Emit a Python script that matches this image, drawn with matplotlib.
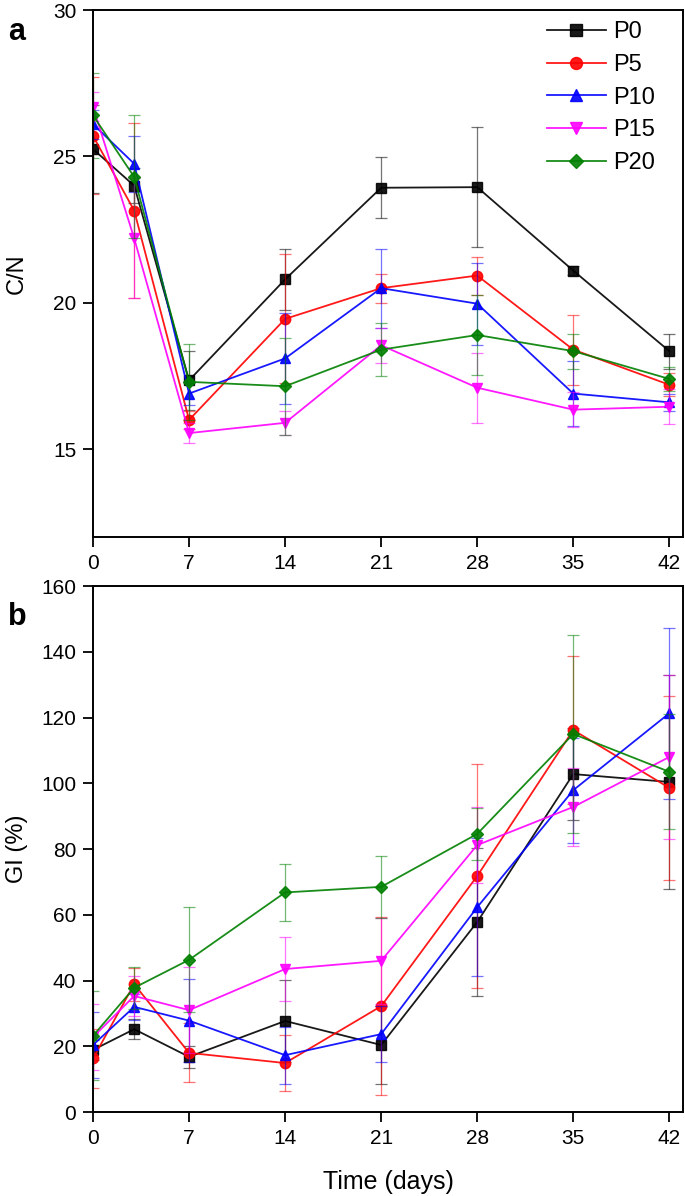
import matplotlib
matplotlib.use("Agg")
import matplotlib.pyplot as plt
import numpy as np

plt.rcParams["font.family"] = ["Liberation Sans", "DejaVu Sans"]

days = [0, 3, 7, 14, 21, 28, 35, 42]
labels = ["P0", "P5", "P10", "P15", "P20"]
colors = ["black", "red", "blue", "magenta", "green"]
markers = ["s", "o", "^", "v", "D"]

# (a) C/N ratio
cn_p0 = [25.25, 24.0, 17.35, 20.8, 23.93, 23.95, 21.1, 18.35]
cn_p5 = [25.7, 23.15, 16.0, 19.45, 20.5, 20.93, 18.4, 17.2]
cn_p10 = [26.1, 24.75, 16.9, 18.1, 20.5, 19.97, 16.9, 16.6]
cn_p15 = [26.7, 22.2, 15.55, 15.9, 18.55, 17.1, 16.35, 16.45]
cn_p20 = [26.4, 24.3, 17.3, 17.15, 18.4, 18.9, 18.35, 17.4]
cn_p0_err = [1.5, 0.6, 1.0, 1.05, 1.05, 2.05, 0.15, 0.6]
cn_p5_err = [2.0, 3.0, 0.3, 2.2, 0.5, 0.65, 1.2, 0.4]
cn_p10_err = [0.5, 0.95, 0.4, 1.55, 1.35, 1.4, 1.1, 0.3]
cn_p15_err = [0.5, 2.05, 0.35, 0.4, 0.6, 1.2, 0.6, 0.6]
cn_p20_err = [1.45, 2.1, 1.3, 1.65, 0.9, 1.35, 0.6, 0.4]

# (b) germination index
gi_p0 = [18.9, 25.2, 16.8, 27.7, 20.4, 57.8, 102.8, 100.4]
gi_p5 = [16.3, 38.9, 18.0, 14.9, 32.2, 71.8, 116.2, 98.6]
gi_p10 = [20.4, 32.0, 27.8, 17.3, 23.7, 62.3, 97.9, 121.3]
gi_p15 = [22.8, 35.3, 31.0, 43.5, 46.0, 81.2, 92.8, 108.0]
gi_p20 = [23.2, 37.8, 46.3, 66.8, 68.5, 84.6, 115.0, 103.5]
gi_p0_err = [3.0, 3.0, 3.4, 12.5, 12.0, 22.5, 14.0, 32.5]
gi_p5_err = [9.0, 5.0, 9.0, 8.5, 27.0, 34.0, 22.5, 28.0]
gi_p10_err = [10.0, 4.0, 12.6, 8.7, 8.5, 21.0, 16.0, 26.0]
gi_p15_err = [10.0, 6.0, 13.0, 9.6, 13.0, 11.6, 12.0, 25.0]
gi_p20_err = [13.6, 6.4, 16.0, 8.7, 9.5, 8.0, 30.0, 17.5]

cn = [cn_p0, cn_p5, cn_p10, cn_p15, cn_p20]
cn_err = [cn_p0_err, cn_p5_err, cn_p10_err, cn_p15_err, cn_p20_err]
gi = [gi_p0, gi_p5, gi_p10, gi_p15, gi_p20]
gi_err = [gi_p0_err, gi_p5_err, gi_p10_err, gi_p15_err, gi_p20_err]


def draw(ax, series, errs, ylim, yticks, ylabel):
    for y, e, c, m, lab in zip(series, errs, colors, markers, labels):
        ax.errorbar(days, y, yerr=e, fmt="none", ecolor=c, elinewidth=0.9,
                    capsize=4, capthick=0.9, alpha=0.55)
        ax.plot(days, y, color=c, marker=m, lw=1.3, ms=7.5 if m != "D" else 6.5,
                label=lab, alpha=0.9)
    ax.set_xlim(0, 43)
    ax.set_ylim(*ylim)
    ax.set_xticks([0, 7, 14, 21, 28, 35, 42])
    ax.set_yticks(yticks)
    ax.tick_params(direction="out", length=7, width=1.3, pad=5, labelsize=15)
    for s in ax.spines.values():
        s.set_linewidth(1.4)
    ax.set_ylabel(ylabel, fontsize=17)
    ax.yaxis.set_label_coords(-0.11, 0.5)


fig = plt.figure(figsize=(6.85, 11.96), dpi=100)
ax1 = fig.add_axes([0.1358, 0.551, 0.8613, 0.4406])
ax2 = fig.add_axes([0.1358, 0.0702, 0.8613, 0.4398])

draw(ax1, cn, cn_err, (12, 30), [15, 20, 25, 30], "C/N")
draw(ax2, gi, gi_err, (0, 160), np.arange(0, 161, 20), "GI (%)")
ax2.set_xlabel("Time (days)", fontsize=18)
ax2.xaxis.set_label_coords(0.5, -0.11)

ax1.legend(loc="upper right", bbox_to_anchor=(0.98, 1.01), frameon=False,
           fontsize=17, handlelength=2.5, handletextpad=0.3,
           labelspacing=0.45, borderaxespad=0.3, markerscale=1.15)

fig.text(0.012, 0.973, "a", fontsize=22, fontweight="bold", va="center")
fig.text(0.012, 0.484, "b", fontsize=22, fontweight="bold", va="center")

fig.savefig("out.png", dpi=100)
